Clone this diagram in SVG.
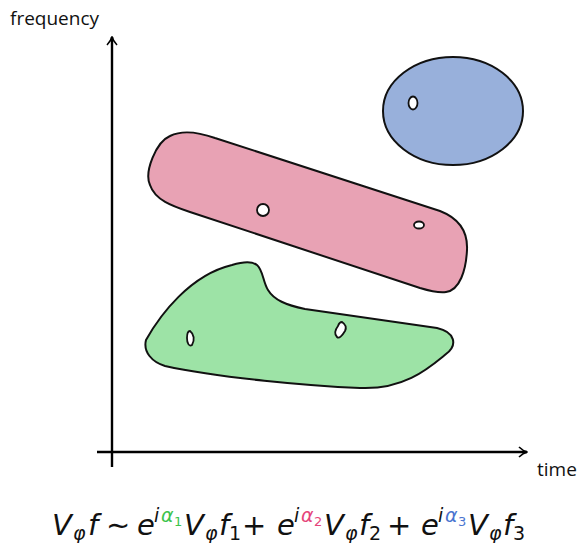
<svg xmlns="http://www.w3.org/2000/svg" width="584" height="543" viewBox="0 0 584 543">
<defs>
<style>
.ax{stroke:#000;stroke-width:2.4;fill:none}
.reg{stroke:#111;stroke-width:2;stroke-linejoin:round}
.hole{fill:#fff;stroke:#111;stroke-width:1.8}
.lbl{font-family:"Open Sans","Liberation Sans",sans-serif;font-size:19px;fill:#111}
.m{font-family:"DejaVu Sans","Liberation Sans",sans-serif;fill:#111}
.it{font-style:italic}
</style>
<marker id="arr" viewBox="0 0 12 12" refX="10" refY="6" markerWidth="12" markerHeight="12" markerUnits="userSpaceOnUse" orient="auto">
<path d="M2,1 Q6,5 10.5,6 Q6,7 2,11" fill="none" stroke="#000" stroke-width="1.6"/>
</marker>
</defs>
<g id="connectors">
<line class="ax" x1="112" y1="467" x2="112" y2="37" marker-end="url(#arr)"/>
<line class="ax" x1="97" y1="452" x2="527" y2="452" marker-end="url(#arr)"/>
</g>
<g id="blue">
<ellipse class="reg" cx="453" cy="111" rx="70" ry="54" fill="#98b0db"/>
<ellipse class="hole" cx="413" cy="103" rx="4.5" ry="6.5"/>
</g>
<g id="pink">
<path class="reg" fill="#e8a2b4" d="M150,185 C144,172 156,142 170,136 C182,130 198,132 215,138 L440,211 C458,218 468,230 467,250 C466,270 460,290 446,292 C440,293 430,291 420,288 L190,212 C172,206 155,200 150,185 Z"/>
<circle class="hole" cx="263" cy="210" r="6"/>
<ellipse class="hole" cx="419" cy="225" rx="5" ry="3.5"/>
</g>
<g id="green">
<path class="reg" fill="#9de3a6" d="M146,340 C160,315 190,275 232,265 C242,262 252,261 257,265 C263,270 263,282 268,290 C274,300 286,305 305,309 L437,328 C455,332 458,345 446,354 C430,367 405,390 360,388 C310,386 220,378 165,366 C152,362 143,352 146,340 Z"/>
<path class="hole" d="M190,331 C194,334 195,340 192,345 C189,347 187,343 187,338 C187,334 188,331 190,331 Z"/>
<path class="hole" d="M342,322 C345,324 347,327 345,331 C342,336 339,339 337,337 C334,334 335,330 338,326 C339,323 340,322 342,322 Z"/>
</g>
<g id="labels">
<text class="lbl" x="10" y="25">frequency</text>
<text class="lbl" x="537" y="476">time</text>
</g>
<g id="formula" class="m">
<text font-size="29">
<tspan class="it" x="52" y="535">V</tspan><tspan class="it" x="73" y="540" font-size="19">φ</tspan><tspan class="it" x="88" y="535">f</tspan><tspan x="106" y="535">∼</tspan>
<tspan class="it" x="137" y="535">e</tspan><tspan class="it" x="154" y="522" font-size="19">i</tspan><tspan class="it" x="161" y="522" font-size="19" fill="#3cc34c">α</tspan><tspan x="174" y="526" font-size="13" fill="#3cc34c">1</tspan><tspan class="it" x="184" y="535">V</tspan><tspan class="it" x="205" y="540" font-size="19">φ</tspan><tspan class="it" x="219" y="535">f</tspan><tspan x="229" y="540" font-size="19">1</tspan>
<tspan x="242" y="535">+</tspan>
<tspan class="it" x="277" y="535">e</tspan><tspan class="it" x="294" y="522" font-size="19">i</tspan><tspan class="it" x="301" y="522" font-size="19" fill="#e5457a">α</tspan><tspan x="314" y="526" font-size="13" fill="#e5457a">2</tspan><tspan class="it" x="324" y="535">V</tspan><tspan class="it" x="345" y="540" font-size="19">φ</tspan><tspan class="it" x="359" y="535">f</tspan><tspan x="369" y="540" font-size="19">2</tspan>
<tspan x="387" y="535">+</tspan>
<tspan class="it" x="421" y="535">e</tspan><tspan class="it" x="438" y="522" font-size="19">i</tspan><tspan class="it" x="445" y="522" font-size="19" fill="#4a74d0">α</tspan><tspan x="458" y="526" font-size="13" fill="#4a74d0">3</tspan><tspan class="it" x="468" y="535">V</tspan><tspan class="it" x="489" y="540" font-size="19">φ</tspan><tspan class="it" x="503" y="535">f</tspan><tspan x="513" y="540" font-size="19">3</tspan>
</text>
</g>
</svg>
